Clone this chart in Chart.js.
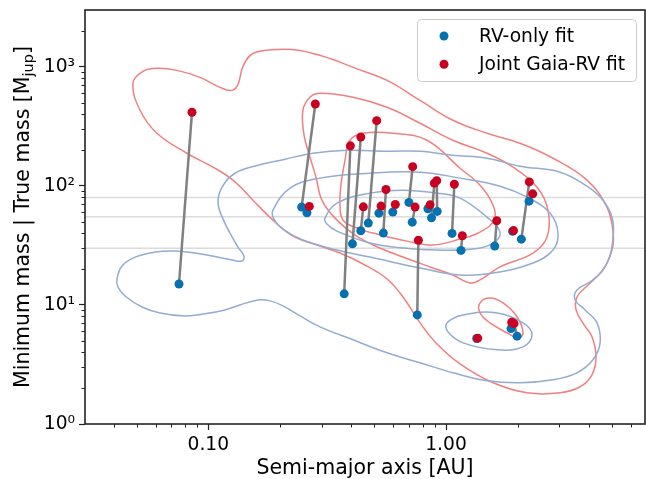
<!DOCTYPE html>
<html>
<head>
<meta charset="utf-8">
<script src="https://cdn.jsdelivr.net/npm/chart.js@4.4.1/dist/chart.umd.min.js"></script>
<style>
  html, body { margin: 0; padding: 0; background: #fff; }
  #wrap { width: 646px; height: 479px; }
</style>
</head>
<body>
<div id="wrap"><canvas id="massChart" width="646" height="479"></canvas></div>
<script>
// Semi-major axis [AU] and mass [M_jup], RV-only solution
const rvA = [0.0753, 0.247, 0.260, 0.373, 0.404, 0.471, 0.438, 0.522, 0.545, 0.597, 0.698, 0.721, 0.757,
             0.839, 0.869, 0.918, 1.06, 1.156, 1.603, 1.905, 2.074, 2.234, 1.346, 1.877, 1.99];
const rvM = [15.0, 66.3, 59.4, 12.4, 32.6, 48.7, 42.0, 59.0, 40.1, 60.2, 72.6, 49.6, 8.25,
             64.2, 53.9, 61.0, 39.9, 28.7, 31.2, 41.5, 35.7, 74.4, 5.22, 6.33, 5.47];

// Same companions, joint Gaia + RV solution
const jointA = [0.0854, 0.282, 0.266, 0.396, 0.438, 0.511, 0.449, 0.533, 0.559, 0.612, 0.724, 0.741, 0.765,
                0.857, 0.893, 0.914, 1.084, 1.171, 1.634, 1.923, 2.240, 2.316, 1.359, 1.89, 1.932];
const jointM = [415, 487, 67.2, 217, 257, 353, 66.7, 67.6, 93.3, 69.8, 145, 66.3, 34.9,
                69.3, 105.4, 110.6, 103.3, 38.1, 50.9, 42.1, 108, 85.7, 5.26, 7.16, 6.97];

// Reference mass levels [M_jup]
const massLevels = [80, 55, 30];

// Axis ranges and labelled ticks
const xMin = 0.0303, xMax = 6.87;
const yMin = 1, yMax = 3000;
const xTicks = [0.1, 1];
const yTicks = [1, 10, 100, 1000];
const xMinor = [0.04, 0.05, 0.06, 0.07, 0.08, 0.09, 0.2, 0.3, 0.4, 0.5, 0.6, 0.7, 0.8, 0.9, 2, 3, 4, 5, 6];
const yMinor = [2, 3, 4, 5, 6, 7, 8, 9, 20, 30, 40, 50, 60, 70, 80, 90, 200, 300, 400, 500, 600, 700, 800, 900, 2000];

// KDE density contours, vertices as [log10 a, log10 M]
const rvOuter = [[-1.384, 1.218], [-1.363, 1.327], [-1.308, 1.402], [-1.224, 1.444], [-1.140, 1.453], [-1.056, 1.436],
  [-0.984, 1.411], [-0.900, 1.377], [-0.858, 1.369], [-0.850, 1.411], [-0.875, 1.486], [-0.930, 1.687],
  [-0.959, 1.855], [-0.942, 1.989], [-0.888, 2.106], [-0.791, 2.174], [-0.677, 2.224], [-0.560, 2.274],
  [-0.416, 2.299], [-0.248, 2.291], [-0.109, 2.291], [0.029, 2.257], [0.172, 2.232], [0.311, 2.165],
  [0.480, 2.115], [0.593, 1.997], [0.660, 1.880], [0.698, 1.738], [0.703, 1.570], [0.677, 1.352],
  [0.618, 1.210], [0.551, 1.126], [0.543, 1.042], [0.585, 0.958], [0.635, 0.849], [0.648, 0.681],
  [0.618, 0.539], [0.551, 0.430], [0.450, 0.371], [0.311, 0.346], [0.172, 0.363], [0.029, 0.430],
  [-0.109, 0.514], [-0.248, 0.598], [-0.391, 0.707], [-0.530, 0.816], [-0.614, 0.908], [-0.686, 0.992],
  [-0.740, 1.034], [-0.791, 1.042], [-0.867, 1.000], [-0.930, 0.958], [-1.014, 0.925], [-1.098, 0.908],
  [-1.203, 0.933], [-1.279, 0.983], [-1.350, 1.075], [-1.380, 1.151]];
const rvMid = [[-0.728, 1.796], [-0.656, 1.981], [-0.530, 2.065], [-0.320, 2.106], [-0.109, 2.115], [0.059, 2.065],
  [0.227, 1.997], [0.341, 1.905], [0.438, 1.771], [0.471, 1.604], [0.450, 1.461], [0.366, 1.352],
  [0.198, 1.268], [0.059, 1.251], [-0.109, 1.310], [-0.320, 1.402], [-0.459, 1.461], [-0.602, 1.545],
  [-0.686, 1.637], [-0.724, 1.721]];
const rvInner = [[-0.509, 1.729], [-0.459, 1.855], [-0.320, 1.939], [-0.181, 1.964], [-0.038, 1.939], [0.059, 1.897],
  [0.172, 1.738], [0.227, 1.612], [0.198, 1.520], [0.114, 1.469], [-0.038, 1.461], [-0.181, 1.478],
  [-0.320, 1.520], [-0.459, 1.620], [-0.501, 1.679]];
const rvSmall = [[0.004, 0.849], [0.072, 0.916], [0.215, 0.933], [0.324, 0.849], [0.362, 0.749], [0.324, 0.648],
  [0.215, 0.623], [0.072, 0.681], [0.008, 0.774]];

const jointOuter = [[-1.317, 2.861], [-1.275, 2.961], [-1.216, 2.987], [-1.132, 2.970], [-1.035, 2.911], [-0.951, 2.827],
  [-0.900, 2.802], [-0.875, 2.852], [-0.854, 3.003], [-0.812, 3.112], [-0.711, 3.146], [-0.614, 3.137],
  [-0.488, 3.070], [-0.391, 2.995], [-0.248, 2.886], [-0.109, 2.718], [0.029, 2.551], [0.172, 2.442],
  [0.311, 2.358], [0.450, 2.232], [0.593, 2.048], [0.677, 1.821], [0.703, 1.604], [0.698, 1.461],
  [0.660, 1.293], [0.593, 1.159], [0.551, 1.067], [0.547, 0.958], [0.581, 0.832], [0.614, 0.732],
  [0.631, 0.564], [0.614, 0.413], [0.564, 0.313], [0.480, 0.262], [0.341, 0.262], [0.198, 0.346],
  [0.059, 0.505], [-0.042, 0.681], [-0.109, 0.849], [-0.181, 1.067], [-0.248, 1.218], [-0.349, 1.344],
  [-0.446, 1.436], [-0.530, 1.495], [-0.644, 1.578], [-0.728, 1.712], [-0.812, 1.880], [-0.896, 2.048],
  [-0.980, 2.157], [-1.090, 2.274], [-1.216, 2.442], [-1.287, 2.635]];
const jointMid = [[-0.602, 2.635], [-0.572, 2.744], [-0.530, 2.777], [-0.391, 2.744], [-0.248, 2.660], [-0.109, 2.526],
  [0.029, 2.383], [0.172, 2.274], [0.282, 2.157], [0.383, 1.989], [0.429, 1.796], [0.425, 1.570],
  [0.366, 1.436], [0.227, 1.319], [0.143, 1.210], [0.101, 1.184], [0.029, 1.251], [-0.067, 1.319],
  [-0.181, 1.402], [-0.278, 1.478], [-0.383, 1.587], [-0.467, 1.729], [-0.522, 1.880], [-0.547, 2.073],
  [-0.572, 2.241], [-0.597, 2.425]];
const jointInner = [[-0.404, 2.383], [-0.349, 2.442], [-0.223, 2.442], [-0.080, 2.383], [0.059, 2.148], [0.143, 2.006],
  [0.198, 1.838], [0.202, 1.712], [0.143, 1.612], [0.059, 1.553], [-0.055, 1.503], [-0.164, 1.536],
  [-0.290, 1.595], [-0.362, 1.637], [-0.433, 1.712], [-0.446, 1.838], [-0.442, 2.006], [-0.425, 2.215]];
const jointSmall = [[0.143, 1.017], [0.185, 1.059], [0.240, 1.017], [0.299, 0.899], [0.324, 0.765], [0.303, 0.723],
  [0.257, 0.765], [0.185, 0.849], [0.143, 0.933]];

const FONT = "'DejaVu Sans', sans-serif";
const rvColor = '#0571b0';
const jointColor = '#ca0020';
const rvContourColor = 'rgb(146, 172, 210)';
const jointContourColor = 'rgb(240, 128, 128)';

const toPoints = (a, m) => a.map((v, i) => ({ x: v, y: m[i] }));

// closed smooth curve: wrap one vertex on each side and hide the two extra segments
function contour(path, color) {
  const pts = path.map(p => ({ x: 10 ** p[0], y: 10 ** p[1] }));
  const n = pts.length;
  const data = [pts[n - 1], ...pts, pts[0], pts[1]];
  const last = data.length - 1;
  return {
    data, showLine: true, borderColor: color, borderWidth: 1.5,
    pointRadius: 0, tension: 0.4, fill: false, order: 3,
    segment: {
      borderColor: c => (c.p0DataIndex === 0 || c.p1DataIndex === last) ? 'rgba(0,0,0,0)' : undefined
    }
  };
}

const datasets = [
  { label: 'Joint Gaia-RV fit', data: toPoints(jointA, jointM), backgroundColor: jointColor,
    pointRadius: 4.5, borderWidth: 0, order: 0, legend: true },
  { label: 'RV-only fit', data: toPoints(rvA, rvM), backgroundColor: rvColor,
    pointRadius: 4.5, borderWidth: 0, order: 1, legend: true }
];

// grey segment joining each RV-only mass to its joint-fit mass
rvA.forEach((a, i) => {
  datasets.push({
    data: [{ x: a, y: rvM[i] }, { x: jointA[i], y: jointM[i] }],
    showLine: true, borderColor: '#808080', borderWidth: 2.5, pointRadius: 0, order: 2
  });
});

[rvOuter, rvMid, rvInner, rvSmall].forEach(p => datasets.push(contour(p, rvContourColor)));
[jointOuter, jointMid, jointInner, jointSmall].forEach(p => datasets.push(contour(p, jointContourColor)));

massLevels.forEach(m => {
  datasets.push({
    data: [{ x: xMin, y: m }, { x: xMax, y: m }],
    showLine: true, borderColor: '#dcdcdc', borderWidth: 1.5, pointRadius: 0, order: 4
  });
});

const supDigits = ['\u2070', '\u00b9', '\u00b2', '\u00b3', '\u2074'];

// minor ticks, frame, y title with subscript and the boxed legend
const decorations = {
  id: 'decorations',
  afterDraw(chart) {
    const ctx = chart.ctx;
    const area = chart.chartArea;
    const xs = chart.scales.x, ys = chart.scales.y;
    ctx.save();

    ctx.strokeStyle = '#222';
    ctx.lineWidth = 1;
    ctx.beginPath();
    xMinor.forEach(v => {
      const px = Math.round(xs.getPixelForValue(v)) + 0.5;
      ctx.moveTo(px, area.bottom);
      ctx.lineTo(px, area.bottom + 3.5);
    });
    yMinor.forEach(v => {
      const py = Math.round(ys.getPixelForValue(v)) + 0.5;
      ctx.moveTo(area.left, py);
      ctx.lineTo(area.left - 3.5, py);
    });
    ctx.stroke();

    ctx.lineWidth = 1.6;
    ctx.strokeRect(area.left, area.top, area.right - area.left, area.bottom - area.top);

    // y axis title
    const cy = (area.top + area.bottom) / 2;
    const main = 'Minimum mass | True mass [M';
    ctx.font = '20.5px ' + FONT;
    const w1 = ctx.measureText(main).width;
    const w3 = ctx.measureText(']').width;
    ctx.font = '14.5px ' + FONT;
    const w2 = ctx.measureText('jup').width;
    const total = w1 + w2 + w3;
    ctx.translate(29, cy);
    ctx.rotate(-Math.PI / 2);
    ctx.fillStyle = '#000';
    ctx.textBaseline = 'alphabetic';
    ctx.textAlign = 'left';
    const x0 = -total / 2;
    ctx.font = '20.5px ' + FONT;
    ctx.fillText(main, x0, 0);
    ctx.font = '14.5px ' + FONT;
    ctx.fillText('jup', x0 + w1, 3.5);
    ctx.font = '20.5px ' + FONT;
    ctx.fillText(']', x0 + w1 + w2, 0);
    ctx.setTransform(1, 0, 0, 1, 0, 0);

    // legend
    const items = chart.data.datasets.filter(d => d.legend).reverse();
    const bx = area.right - 228, by = area.top + 9, bw = 219, bh = 62;
    ctx.beginPath();
    ctx.roundRect(bx + 0.5, by + 0.5, bw, bh, 4);
    ctx.fillStyle = 'rgba(255,255,255,0.8)';
    ctx.fill();
    ctx.strokeStyle = '#cccccc';
    ctx.lineWidth = 1;
    ctx.stroke();
    ctx.font = '18.67px ' + FONT;
    ctx.textBaseline = 'middle';
    items.forEach((d, i) => {
      const iy = by + 17 + i * 28.3;
      ctx.beginPath();
      ctx.arc(bx + 27, iy, 4.5, 0, Math.PI * 2);
      ctx.fillStyle = d.backgroundColor;
      ctx.fill();
      ctx.fillStyle = '#000';
      ctx.fillText(d.label, bx + 62, iy + 1);
    });
    ctx.restore();
  }
};

new Chart(document.getElementById('massChart'), {
  type: 'scatter',
  data: { datasets },
  options: {
    responsive: false,
    animation: false,
    devicePixelRatio: 1,
    events: [],
    layout: { autoPadding: false, padding: { top: 10, right: 1, left: 0, bottom: 0 } },
    plugins: { legend: { display: false }, tooltip: { enabled: false } },
    scales: {
      x: {
        type: 'logarithmic', min: xMin, max: xMax,
        afterBuildTicks: s => { s.ticks = xTicks.map(v => ({ value: v })); },
        afterFit: s => { s.height = 55; s.paddingLeft = 0; s.paddingRight = 0; },
        ticks: { callback: v => Number(v).toFixed(2), font: { family: FONT, size: 18.67 }, color: '#000',
                 padding: 4, maxRotation: 0, autoSkip: false },
        grid: { display: true, drawOnChartArea: false, drawTicks: true, tickLength: 6, tickWidth: 1.2,
                tickColor: '#222', color: '#222' },
        border: { display: false },
        title: { display: true, text: 'Semi-major axis [AU]', color: '#000',
                 font: { family: FONT, size: 20.5 }, padding: { top: 0, bottom: -2 } }
      },
      y: {
        type: 'logarithmic', min: yMin, max: yMax,
        afterBuildTicks: s => { s.ticks = yTicks.map(v => ({ value: v })); },
        afterFit: s => { s.width = 85; s.paddingTop = 0; s.paddingBottom = 0; },
        ticks: { callback: v => '10' + supDigits[Math.round(Math.log10(v))], font: { family: FONT, size: 18.67 },
                 color: '#000', padding: 4, autoSkip: false },
        grid: { display: true, drawOnChartArea: false, drawTicks: true, tickLength: 6, tickWidth: 1.2,
                tickColor: '#222', color: '#222' },
        border: { display: false }
      }
    }
  },
  plugins: [decorations]
});
</script>
</body>
</html>
